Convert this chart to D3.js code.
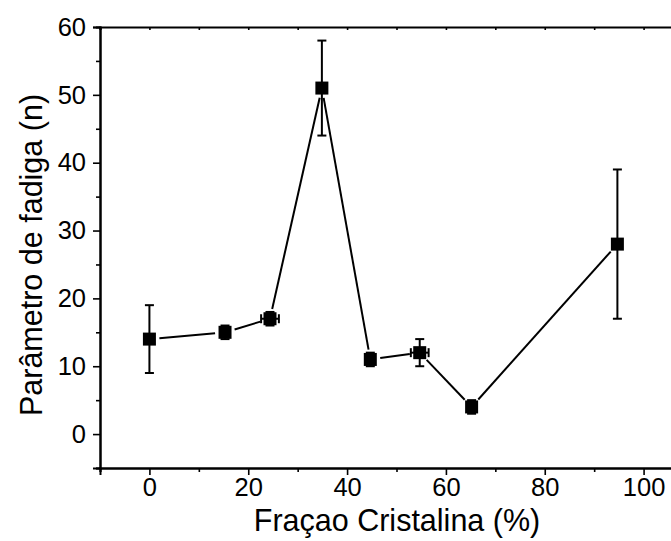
<!DOCTYPE html>
<html>
<head>
<meta charset="utf-8">
<script src="https://cdn.jsdelivr.net/npm/d3@7"></script>
<style>
  html, body { margin: 0; padding: 0; background: #fff; }
  svg { display: block; }
  text { font-family: "Liberation Sans", Arial, sans-serif; fill: #000; }
</style>
</head>
<body>
<svg id="chart" width="671" height="541"></svg>
<script>
// Fatigue parameter n versus crystalline fraction
const fraction = [0, 15.3, 24.4, 34.9, 44.7, 54.7, 65.2, 94.7];
const fatigueN = [14, 15, 17, 51, 11, 12, 4, 28];
const errN     = [5, 1, 1, 7, 1, 2, 1, 11];
const errFrac  = [0, 0, 1.8, 0, 0.8, 1.8, 0, 0];

const xMajorTicks = [0, 20, 40, 60, 80, 100];
const xMinorTicks = [-10, 10, 30, 50, 70, 90, 110];
const yMajorTicks = [0, 10, 20, 30, 40, 50, 60];
const yMinorTicks = [-5, 5, 15, 25, 35, 45, 55];

const svg = d3.select("#chart");
const plotL = 100, plotR = 693, plotT = 27, plotB = 468;

const x = d3.scaleLinear().domain([-10, 110]).range([plotL, plotR]);
const y = d3.scaleLinear().domain([-5, 60]).range([plotB, plotT]);

// Bottom axis
svg.append("g").attr("transform", `translate(0,${plotB})`)
  .call(d3.axisBottom(x).tickValues(xMajorTicks).tickSize(7).tickPadding(3).tickFormat(d3.format("d")));
svg.append("g").attr("transform", `translate(0,${plotB})`)
  .call(d3.axisBottom(x).tickValues(xMinorTicks).tickSize(4).tickFormat(""));

// Left axis
svg.append("g").attr("transform", `translate(${plotL},0)`)
  .call(d3.axisLeft(y).tickValues(yMajorTicks).tickSize(7).tickPadding(7).tickFormat(d3.format("d")));
svg.append("g").attr("transform", `translate(${plotL},0)`)
  .call(d3.axisLeft(y).tickValues(yMinorTicks).tickSize(4).tickFormat(""));

// Top frame line with small inward ticks
svg.append("g").attr("transform", `translate(0,${plotT})`)
  .call(d3.axisTop(x).tickValues(xMajorTicks.concat(xMinorTicks)).tickSize(-3).tickFormat(""));

svg.selectAll(".domain").attr("stroke", "#000").attr("stroke-width", 2);
svg.selectAll(".tick line").attr("stroke", "#000").attr("stroke-width", 1.6);
svg.selectAll(".tick text").style("font-size", "25.5px").style("font-family", "'Liberation Sans', Arial, sans-serif");

// Axis titles
svg.append("text")
  .attr("x", 397)
  .attr("y", 531)
  .attr("text-anchor", "middle")
  .style("font-size", "30.5px")
  .text("Fraçao Cristalina (%)");

svg.append("text")
  .attr("transform", `translate(42,255) rotate(-90)`)
  .attr("text-anchor", "middle")
  .style("font-size", "30.5px")
  .text("Parâmetro de fadiga (n)");

const pts = fraction.map((f, i) => ({
  px: x(f), py: y(fatigueN[i]), ex: errFrac[i], ey: errN[i], f, n: fatigueN[i]
}));

// Connecting line, with a small gap around each symbol
const gap = 10;
const segs = [];
for (let i = 0; i < pts.length - 1; i++) {
  const a = pts[i], b = pts[i + 1];
  const dx = b.px - a.px, dy = b.py - a.py, len = Math.hypot(dx, dy);
  const ux = dx / len, uy = dy / len;
  segs.push({ x1: a.px + ux * gap, y1: a.py + uy * gap, x2: b.px - ux * gap, y2: b.py - uy * gap });
}
svg.append("g").selectAll("line").data(segs).join("line")
  .attr("x1", d => d.x1).attr("y1", d => d.y1)
  .attr("x2", d => d.x2).attr("y2", d => d.y2)
  .attr("stroke", "#000").attr("stroke-width", 2);

// Error bars
const cap = 4.5;
const eb = svg.append("g").attr("stroke", "#000").attr("stroke-width", 2);
pts.forEach(p => {
  if (p.ey > 0) {
    const y1 = y(p.n + p.ey), y2 = y(p.n - p.ey);
    eb.append("line").attr("x1", p.px).attr("x2", p.px).attr("y1", y1).attr("y2", y2);
    eb.append("line").attr("x1", p.px - cap).attr("x2", p.px + cap).attr("y1", y1).attr("y2", y1);
    eb.append("line").attr("x1", p.px - cap).attr("x2", p.px + cap).attr("y1", y2).attr("y2", y2);
  }
  if (p.ex > 0) {
    const x1 = x(p.f - p.ex), x2 = x(p.f + p.ex);
    eb.append("line").attr("x1", x1).attr("x2", x2).attr("y1", p.py).attr("y2", p.py);
    eb.append("line").attr("x1", x1).attr("x2", x1).attr("y1", p.py - cap).attr("y2", p.py + cap);
    eb.append("line").attr("x1", x2).attr("x2", x2).attr("y1", p.py - cap).attr("y2", p.py + cap);
  }
});

// Square symbols
const s = 13;
svg.append("g").selectAll("rect").data(pts).join("rect")
  .attr("x", d => d.px - s / 2).attr("y", d => d.py - s / 2)
  .attr("width", s).attr("height", s)
  .attr("fill", "#000");
</script>
</body>
</html>
